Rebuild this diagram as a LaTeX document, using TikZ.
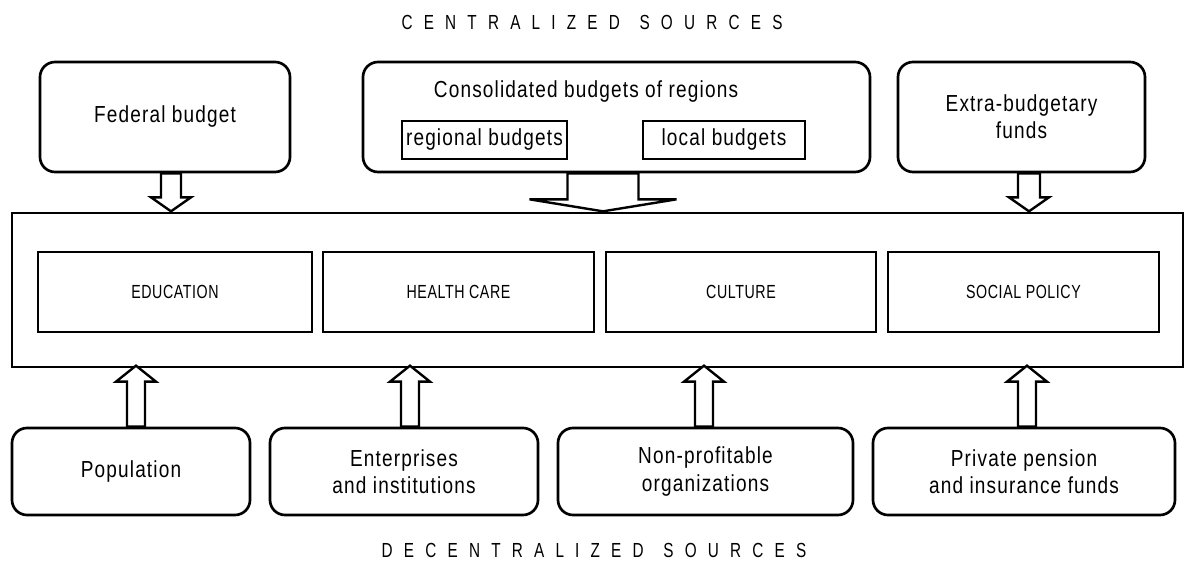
\documentclass[tikz,border=0pt]{standalone}
\usepackage{fontspec}
\setmainfont{Liberation Sans}[FakeStretch=0.82, LetterSpace=5]
\newfontfamily\spacedfont{Liberation Sans}[FakeStretch=0.75, LetterSpace=55]
\newfontfamily\narrowfont{Liberation Sans}[FakeStretch=0.75, LetterSpace=3]
\usetikzlibrary{calc}
\def\pxu{0.025cm}
\tikzstyle{source}=[draw, rounded corners=10.7pt, line width=1.9pt, inner sep=0pt, align=center, font=\fontsize{16.5}{19.5}\selectfont]
\tikzstyle{part}=[draw, line width=1.6pt, inner sep=0pt, minimum height=38*\pxu, font=\fontsize{16.5}{19.5}\selectfont]
\tikzstyle{sphere}=[draw, line width=1.6pt, inner sep=0pt, minimum height=80*\pxu, font=\narrowfont\fontsize{13.5}{15}\selectfont]
\tikzstyle{heading}=[inner sep=0pt, font=\spacedfont\fontsize{14.5}{16}\selectfont]
\tikzstyle{hollow}=[draw, line width=1.7pt, fill=white, line join=miter]

\begin{document}
\begin{tikzpicture}[x=0.025cm, y=-0.025cm]
	\useasboundingbox (0,0) rectangle (1185,563);

	% headings
	\node[heading] (central) at (592,22) {CENTRALIZED\hspace{3pt} SOURCES};
	\node[heading] (decentral) at (594,550) {DECENTRALIZED\hspace{3pt} SOURCES};

	% centralized sources
	\foreach \pos/\bw/\name/\txt in {{(165,117)/250/fed/Federal budget}, {(616.5,117)/507/cons/},
							{(1021.5,117)/247/extra/Extra-budgetary\\funds}}
	\node[source, minimum width=\bw*\pxu, minimum height=110*\pxu] (\name) at \pos {\txt};
	\node[font=\fontsize{16.5}{19.5}\selectfont] (constitle) at (586,92) {Consolidated budgets of regions};
	\node[part, minimum width=165*\pxu] (reg) at (484.5,140) {regional budgets};
	\node[part, minimum width=162*\pxu] (loc) at (724,140) {local budgets};

	% frame with the spheres
	\node[draw, line width=1.9pt, minimum width=1171*\pxu, minimum height=154*\pxu] (main) at (597.5,290) {};
	\foreach \pos/\bw/\name/\txt in {{(175,292)/274/edu/EDUCATION}, {(458.5,292)/271/hc/HEALTH CARE},
							{(741,292)/270/cul/CULTURE}, {(1023.5,292)/271/soc/SOCIAL POLICY}}
	\node[sphere, minimum width=\bw*\pxu] (\name) at \pos {\txt};

	% decentralized sources
	\foreach \pos/\bw/\name/\txt in {{(131,471.5)/238/pop/Population}, {(404,471.5)/268/ent/Enterprises\\and institutions},
							{(705.5,471.5)/295/npo/Non-profitable\\organizations}, {(1024,471.5)/302/ppf/Private pension\\and insurance funds}}
	\node[source, minimum width=\bw*\pxu, minimum height=87*\pxu] (\name) at \pos {\txt};

	% block arrows down into the frame
	\foreach \src/\dx/\sw/\hw/\sl in {fed/6/10/20/24, cons/-13.5/35.5/73.5/26, extra/7.5/11/20/24}
	\draw[hollow] ($(\src.south)+(\dx-\sw,0)$) -- ++(0,\sl) -- ++(\sw-\hw,0) -- ++(\hw,38-\sl)
		-- ++(\hw,-38+\sl) -- ++(\sw-\hw,0) -- ++(0,-\sl) -- cycle;

	% block arrows up into the frame
	\foreach \src/\dx in {pop/5, ent/6, npo/-1.5, ppf/3}
	\draw[hollow] ($(\src.north)+(\dx-9,0)$) -- ++(0,-45) -- ++(-11,0) -- ++(20,-16)
		-- ++(20,16) -- ++(-11,0) -- ++(0,45) -- cycle;

\end{tikzpicture}
\end{document}
